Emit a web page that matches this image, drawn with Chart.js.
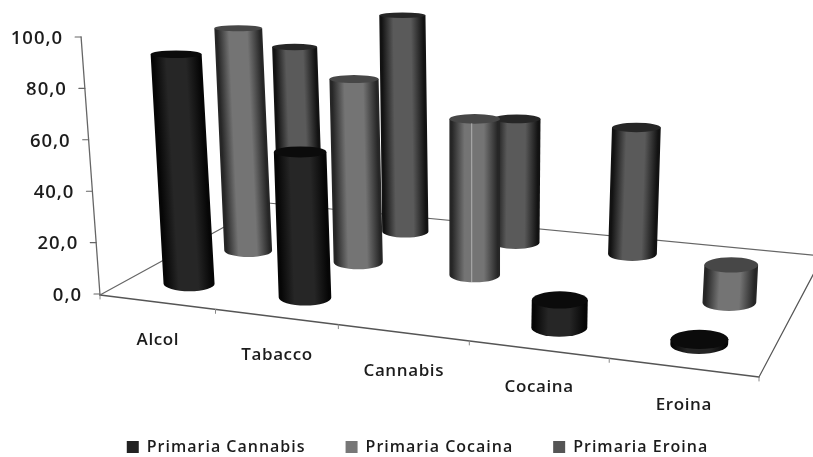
<!DOCTYPE html>
<html>
<head>
<meta charset="utf-8">
<style>
html,body{margin:0;padding:0;background:#fff}
canvas{display:block;filter:blur(0.35px)}
</style>
<script src="https://cdn.jsdelivr.net/npm/chart.js@4"></script>
</head>
<body>
<canvas id="c" width="813" height="457"></canvas>
<script>
const categories = ['Alcol', 'Tabacco', 'Cannabis', 'Cocaina', 'Eroina'];
const seriesNames = ['Primaria Cannabis', 'Primaria Cocaina', 'Primaria Eroina'];
const primariaCannabis = [91.0, 56.0, null, 10.0, 1.7];
const primariaCocaina = [94.0, 75.4, 62.4, null, 14.2];
const primariaEroina = [78.3, 94.7, 52.7, 52.5, null];
const yTickLabels = ['0,0', '20,0', '40,0', '60,0', '80,0', '100,0'];

// Floor of the 3D box on screen: front-left, front-right, back-right, back-left
const A = [100, 295], B = [759, 377], C = [823, 256], D = [268, 203];
const looks = [
  {legend: '#222222', edge: '#060606', mid: '#262626', top: '#0b0b0b'},
  {legend: '#777777', edge: '#262626', mid: '#747474', top: '#474747'},
  {legend: '#555555', edge: '#121212', mid: '#5a5a5a', top: '#262626'}
];

const dx1 = B[0] - C[0], dx2 = D[0] - C[0], sx = A[0] - B[0] + C[0] - D[0];
const dy1 = B[1] - C[1], dy2 = D[1] - C[1], sy = A[1] - B[1] + C[1] - D[1];
const det = dx1 * dy2 - dx2 * dy1;
const g = (sx * dy2 - dx2 * sy) / det;
const h = (dx1 * sy - sx * dy1) / det;
function project(u, v) {
  const w = 1 + g * u + h * v;
  return {
    x: (A[0] + (B[0] - A[0] + g * B[0]) * u + (D[0] - A[0] + h * D[0]) * v) / w,
    y: (A[1] + (B[1] - A[1] + g * B[1]) * u + (D[1] - A[1] + h * D[1]) * v) / w,
    w
  };
}
const LEAN_X = 475, LEAN = 0.000197;
const ROW_SHIFT = 2.6;
const tilt = y => 0.11 + 0.00066 * y;

function cylinder(ctx, p, height, look, streak) {
  const r = 26 / p.w;
  const tx = p.x + (p.x - LEAN_X) * LEAN * height, ty = p.y - height;
  // body is drawn in a sheared frame so its shading leans with it
  ctx.save();
  ctx.translate(p.x, p.y);
  ctx.transform(1, 0, (p.x - tx) / height, 1, 0, 0);
  const gr = ctx.createLinearGradient(-r, 0, r, 0);
  gr.addColorStop(0, look.edge);
  gr.addColorStop(0.05, look.edge);
  gr.addColorStop(0.3, look.mid);
  gr.addColorStop(0.68, look.mid);
  gr.addColorStop(0.95, look.edge);
  gr.addColorStop(1, look.edge);
  ctx.beginPath();
  ctx.moveTo(-r, -height);
  ctx.lineTo(-r, 0);
  ctx.ellipse(0, 0, r, r * tilt(p.y), 0, Math.PI, 0, true);
  ctx.lineTo(r, -height);
  ctx.closePath();
  ctx.fillStyle = gr;
  ctx.fill();
  ctx.restore();
  ctx.beginPath();
  ctx.ellipse(tx, ty, r, r * tilt(ty), 0, 0, Math.PI * 2);
  ctx.fillStyle = look.top;
  ctx.fill();
  if (streak) {
    ctx.beginPath();
    ctx.moveTo(tx - 3, ty + r * tilt(ty));
    ctx.lineTo(p.x - 3, p.y + r * tilt(p.y));
    ctx.strokeStyle = 'rgba(225,225,225,0.55)';
    ctx.lineWidth = 1;
    ctx.stroke();
  }
}

function line(ctx, a, b, color, width) {
  ctx.beginPath();
  ctx.moveTo(a[0], a[1]);
  ctx.lineTo(b[0], b[1]);
  ctx.strokeStyle = color;
  ctx.lineWidth = width;
  ctx.stroke();
}

const legendSpacing = '1px';
const box3d = {
  id: 'box3d',
  beforeLayout(chart) { chart.ctx.letterSpacing = legendSpacing; },
  beforeDraw(chart) { chart.ctx.letterSpacing = legendSpacing; },
  beforeDatasetsDraw(chart) {
    const ctx = chart.ctx, xs = chart.scales.x, ys = chart.scales.y;
    ctx.save();
    ctx.lineCap = 'round';
    // floor
    line(ctx, A, D, '#666', 1.2);
    line(ctx, D, C, '#666', 1.2);
    line(ctx, C, B, '#555', 1.2);
    line(ctx, A, B, '#555', 1.4);
    for (let i = 0; i <= categories.length; i++) {
      const t = project(i / categories.length, 0);
      line(ctx, [t.x, t.y], [t.x, t.y + 4], '#888', 1);
    }
    // value axis, leaning like the cylinders
    const y0 = ys.getPixelForValue(0);
    const axisX = y => A[0] - (y0 - y) * 0.0736;
    line(ctx, [axisX(ys.top), ys.top], A, '#666', 1.3);
    ctx.fillStyle = '#1c1c1c';
    ctx.font = '600 18.5px "Open Sans"';
    ctx.letterSpacing = '1px';
    ctx.textAlign = 'right';
    ctx.textBaseline = 'middle';
    ys.ticks.forEach((t, i) => {
      const y = ys.getPixelForTick(i), x = axisX(y);
      line(ctx, [x - 6, y], [x, y], '#666', 1.1);
      ctx.fillText(t.label, x - 18, y + 1.5);
    });
    // category labels under the front edge
    ctx.textAlign = 'center';
    ctx.font = '600 17px "Open Sans"';
    ctx.letterSpacing = '0.6px';
    categories.forEach((name, i) => {
      const t = project((xs.getPixelForValue(i) - xs.left) / xs.width, 0);
      ctx.fillText(name, t.x + 1, t.y + 38);
    });
    // cylinders, back row first
    for (let j = chart.data.datasets.length - 1; j >= 0; j--) {
      const meta = chart.getDatasetMeta(j);
      meta.data.forEach((el, i) => {
        const value = chart.data.datasets[j].data[i];
        if (value === null) return;
        const u = (el.x - xs.left) / xs.width;
        const v = (j + 0.5) / chart.data.datasets.length;
        const p = project(u, v);
        p.x += 1 + j * ROW_SHIFT;
        const height = (y0 - ys.getPixelForValue(value)) / p.w;
        cylinder(ctx, p, height, looks[j], j === 1 && i === 2);
      });
    }
    ctx.restore();
    return false;
  }
};

new Chart(document.getElementById('c'), {
  type: 'bar',
  data: {
    labels: categories,
    datasets: [
      {label: seriesNames[0], data: primariaCannabis, backgroundColor: looks[0].legend, grouped: false},
      {label: seriesNames[1], data: primariaCocaina, backgroundColor: looks[1].legend, grouped: false},
      {label: seriesNames[2], data: primariaEroina, backgroundColor: looks[2].legend, grouped: false}
    ]
  },
  options: {
    responsive: false,
    animation: false,
    layout: {padding: {left: 22, right: 0, top: 37, bottom: -8}},
    plugins: {
      tooltip: {enabled: false},
      legend: {
        position: 'bottom',
        labels: {
          boxWidth: 12, boxHeight: 12, padding: 40,
          color: '#1c1c1c',
          font: {family: '"Open Sans"', size: 16, weight: '600'}
        }
      }
    },
    scales: {
      x: {
        grid: {display: false}, border: {display: false},
        ticks: {display: false},
        afterFit(s) { s.height = 105; }
      },
      y: {
        min: 0, max: 100,
        grid: {display: false}, border: {display: false},
        ticks: {display: false, stepSize: 20, callback: v => yTickLabels[v / 20]},
        afterFit(s) { s.width = 0; }
      }
    }
  },
  plugins: [box3d]
});
</script>
</body>
</html>
